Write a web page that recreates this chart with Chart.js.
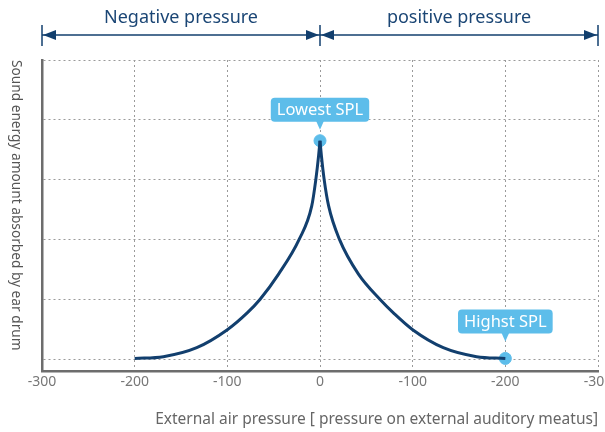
<!DOCTYPE html>
<html>
<head>
<meta charset="utf-8">
<script src="https://cdn.jsdelivr.net/npm/chart.js@4.4.0/dist/chart.umd.min.js"></script>
<style>
  html, body { margin: 0; padding: 0; background: #fff; }
  #wrap { width: 605px; height: 432px; }
</style>
</head>
<body>
<div id="wrap"><canvas id="chart"></canvas></div>
<script>
// pressure (x) and absorbed sound energy (y)
const leftX = [-200, -169, -133, -100, -78, -64.6, -44.7, -22.5, -8.9, -4.5, -1.5, 0];
const leftY = [0.01, 0.04, 0.19, 0.49, 0.78, 1.0, 1.42, 2.0, 2.56, 3.0, 3.4, 3.65];
const rightX = [0, 1.5, 4.5, 9.3, 21, 41.5, 64.6, 80, 100, 133, 169, 200];
const rightY = [3.65, 3.4, 3.0, 2.56, 2.0, 1.42, 1.0, 0.76, 0.49, 0.19, 0.04, 0.01];

const xTickValues = [-300, -200, -100, 0, 100, 200, 300];
const xTickLabels = ["-300", "-200", "-100", "0", "-100", "-200", "-300"];
const yGridValues = [0, 1, 2, 3, 4, 5];

const markerLabels = ["Lowest SPL", "Highst SPL"];
const markerX = [0, 200];
const markerY = [3.65, 0.01];

const sideLabels = ["Negative pressure", "positive pressure"];
const xTitle = "External air pressure [ pressure on external auditory meatus]";
const yTitle = "Sound energy amount absorbed by ear drum";

const FONT = "'Noto Sans', 'DejaVu Sans', sans-serif";
const NAVY = "#123f6e";
const SKY = "#5dbdea";

function roundRect(ctx, x, y, w, h, r) {
    ctx.beginPath();
    ctx.moveTo(x + r, y);
    ctx.lineTo(x + w - r, y);
    ctx.quadraticCurveTo(x + w, y, x + w, y + r);
    ctx.lineTo(x + w, y + h - r);
    ctx.quadraticCurveTo(x + w, y + h, x + w - r, y + h);
    ctx.lineTo(x + r, y + h);
    ctx.quadraticCurveTo(x, y + h, x, y + h - r);
    ctx.lineTo(x, y + r);
    ctx.quadraticCurveTo(x, y, x + r, y);
    ctx.closePath();
}

const decorPlugin = {
    id: "decor",
    afterDraw(chart) {
        const ctx = chart.ctx;
        const xs = chart.scales.x;
        const ys = chart.scales.y;
        const xl = xs.getPixelForValue(-300);
        const xm = xs.getPixelForValue(0);
        const xr = xs.getPixelForValue(300);

        // top range arrows
        const ay = 35;
        ctx.save();
        ctx.strokeStyle = NAVY;
        ctx.fillStyle = NAVY;
        ctx.lineWidth = 1.5;
        [xl, xm, xr].forEach((bx) => {
            ctx.beginPath();
            ctx.moveTo(bx, ay - 10);
            ctx.lineTo(bx, ay + 11);
            ctx.stroke();
        });
        ctx.beginPath();
        ctx.moveTo(xl, ay);
        ctx.lineTo(xr, ay);
        ctx.stroke();
        const head = (tipX, dir) => {
            ctx.beginPath();
            ctx.moveTo(tipX, ay);
            ctx.lineTo(tipX + dir * 13, ay - 5);
            ctx.lineTo(tipX + dir * 13, ay + 5);
            ctx.closePath();
            ctx.fill();
        };
        head(xl + 1, 1);
        head(xm - 1, -1);
        head(xm + 1, 1);
        head(xr - 1, -1);

        ctx.font = "18px " + FONT;
        ctx.textAlign = "center";
        ctx.textBaseline = "middle";
        ctx.fillStyle = "#1b4675";
        ctx.fillText(sideLabels[0], (xl + xm) / 2, 18);
        ctx.fillText(sideLabels[1], (xm + xr) / 2, 18);
        ctx.restore();

        // y title, reading top to bottom
        ctx.save();
        ctx.translate(16, 60);
        ctx.rotate(Math.PI / 2);
        ctx.font = "13.7px " + FONT;
        ctx.fillStyle = "#555";
        ctx.textAlign = "left";
        ctx.textBaseline = "middle";
        ctx.fillText(yTitle, 0, 0);
        ctx.restore();

        // callouts
        const gaps = [19, 25];
        ctx.save();
        ctx.font = "16.5px " + FONT;
        ctx.textAlign = "center";
        ctx.textBaseline = "middle";
        markerLabels.forEach((txt, i) => {
            const px = xs.getPixelForValue(markerX[i]);
            const py = ys.getPixelForValue(markerY[i]);
            const w = ctx.measureText(txt).width + 12;
            const h = 24;
            const bottom = py - gaps[i];
            ctx.fillStyle = SKY;
            roundRect(ctx, px - w / 2, bottom - h, w, h, 4);
            ctx.fill();
            ctx.beginPath();
            ctx.moveTo(px - 4, bottom - 1);
            ctx.lineTo(px + 4, bottom - 1);
            ctx.lineTo(px, bottom + 8);
            ctx.closePath();
            ctx.fill();
            ctx.fillStyle = "#fff";
            ctx.fillText(txt, px, bottom - h / 2 + 1);
        });
        ctx.restore();
    }
};

const ctx = document.getElementById("chart").getContext("2d");
new Chart(ctx, {
    type: "line",
    data: {
        datasets: [
            {
                data: leftX.map((x, i) => ({ x: x, y: leftY[i] })),
                borderColor: NAVY,
                borderWidth: 3,
                pointRadius: 0,
                cubicInterpolationMode: "monotone",
                fill: false,
            },
            {
                data: rightX.map((x, i) => ({ x: x, y: rightY[i] })),
                borderColor: NAVY,
                borderWidth: 3,
                pointRadius: 0,
                cubicInterpolationMode: "monotone",
                fill: false,
            },
            {
                type: "scatter",
                data: markerX.map((x, i) => ({ x: x, y: markerY[i] })),
                backgroundColor: SKY,
                borderColor: SKY,
                pointRadius: 6,
                pointHoverRadius: 6,
            },
        ],
    },
    options: {
        responsive: true,
        maintainAspectRatio: false,
        animation: false,
        events: [],
        layout: { padding: { left: 42, right: 5, top: 60, bottom: 0 } },
        plugins: {
            legend: { display: false },
            tooltip: { enabled: false },
        },
        scales: {
            x: {
                type: "linear",
                min: -300,
                max: 300,
                afterBuildTicks: (s) => { s.ticks = xTickValues.map((v) => ({ value: v })); },
                afterFit: (s) => { s.height = 61; s.paddingLeft = 0; s.paddingRight = 0; },
                ticks: {
                    padding: 3,
                    color: "#777",
                    font: { family: FONT, size: 14 },
                    callback: (v) => xTickLabels[xTickValues.indexOf(v)],
                },
                grid: { color: "#9a9a9a", lineWidth: 1, drawTicks: false },
                border: { display: true, color: "#6d6d6d", width: 2.5, dash: [2, 3] },
                title: {
                    display: true,
                    text: xTitle,
                    color: "#666",
                    font: { family: FONT, size: 15.5 },
                    align: "end",
                    padding: { top: 0, bottom: 3 },
                },
            },
            y: {
                min: -0.2,
                max: 5,
                afterBuildTicks: (s) => { s.ticks = yGridValues.map((v) => ({ value: v })); },
                afterFit: (s) => { s.width = 0; },
                ticks: { display: false },
                grid: { color: "#9a9a9a", lineWidth: 1, drawTicks: false },
                border: { display: true, color: "#6d6d6d", width: 2.5, dash: [2, 3] },
            },
        },
    },
    plugins: [decorPlugin],
});
</script>
</body>
</html>
